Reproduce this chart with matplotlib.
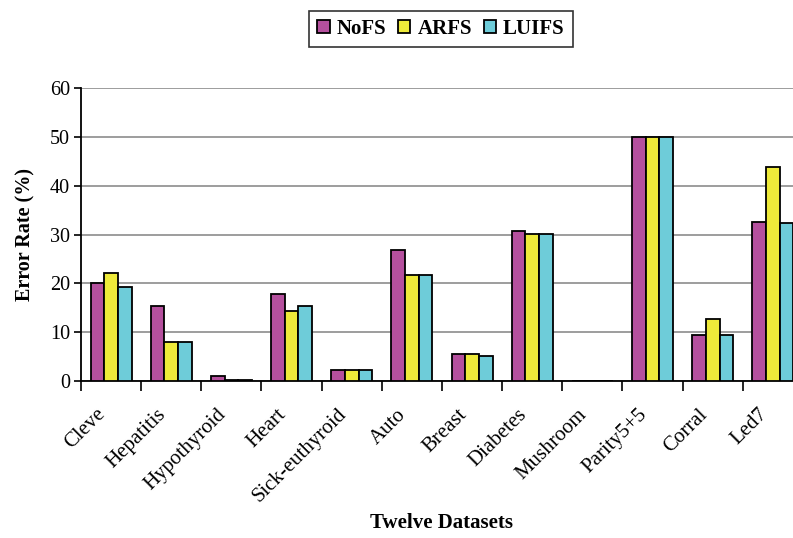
import numpy as np
import matplotlib
matplotlib.use("Agg")
import matplotlib.pyplot as plt
import matplotlib.transforms as mtransforms

plt.rcParams['font.family'] = ['Liberation Serif', 'DejaVu Serif']

datasets = ["Cleve", "Hepatitis", "Hypothyroid", "Heart", "Sick-euthyroid", "Auto",
            "Breast", "Diabetes", "Mushroom", "Parity5+5", "Corral", "Led7"]
nofs = [20.0, 15.3, 1.0, 17.9, 2.3, 26.9, 5.5, 30.8, 0.0, 50.0, 9.4, 32.6]
arfs = [22.1, 7.9, 0.3, 14.4, 2.3, 21.7, 5.5, 30.1, 0.0, 50.0, 12.6, 43.9]
luifs = [19.2, 7.9, 0.3, 15.4, 2.3, 21.7, 5.2, 30.1, 0.0, 50.0, 9.4, 32.3]

series = [("NoFS", nofs, "#B5509E"), ("ARFS", arfs, "#EEEA3A"), ("LUIFS", luifs, "#6ECCD9")]

W, H = 793, 538
fig = plt.figure(figsize=(W / 100, H / 100), dpi=100)
# plot area runs past the right edge of the picture, as in the reference
ax = fig.add_axes([81 / W, 1 - 381 / H, 722 / W, 293 / H])

x = np.arange(len(datasets))
bw = 0.228
for i, (name, vals, col) in enumerate(series):
    ax.bar(x + (i - 1) * bw, vals, bw, color=col, edgecolor="black", linewidth=1.3,
           label=name, zorder=3)

ax.set_xlim(-0.5, len(datasets) - 0.5)
ax.set_ylim(0, 60)
ax.set_yticks(range(0, 61, 10))
ax.yaxis.grid(True, color="#8c8c8c", linewidth=1.2, zorder=0)
ax.set_axisbelow(True)

# category labels: rotated, drawn as text so they can sit a bit left of centre
ax.set_xticks(x)
ax.tick_params(axis="x", which="major", length=0, labelbottom=False)
lab_tr = mtransforms.blended_transform_factory(ax.transData, ax.transAxes) + \
    mtransforms.ScaledTranslation(-15 / 100, -24 / 100, fig.dpi_scale_trans)
for xi, name in zip(x, datasets):
    ax.text(xi, 0, name, transform=lab_tr, rotation=45, ha="right", va="top",
            rotation_mode="anchor", fontsize=15)
ax.set_xticks(np.arange(-0.5, len(datasets), 1), minor=True)
ax.tick_params(axis="x", which="minor", length=7, width=1.2, direction="out")
ax.tick_params(axis="y", labelsize=14.5, length=5, width=1.2, pad=3)

for s in ["top", "right"]:
    ax.spines[s].set_visible(False)
ax.spines["left"].set_linewidth(1.3)
ax.spines["bottom"].set_linewidth(1.3)

ax.set_ylabel("Error Rate (%)", fontsize=14.5, fontweight="bold", labelpad=10)
fig.text(441 / W, 1 - 523 / H, "Twelve Datasets", fontsize=15, fontweight="bold",
         ha="center", va="center")

leg = fig.legend(loc="center", bbox_to_anchor=(441 / W, 1 - 29 / H), ncol=3,
                 fancybox=False, edgecolor="black", handlelength=0.6, handleheight=0.6,
                 handletextpad=0.34, columnspacing=0.55, borderpad=0.4, borderaxespad=0,
                 prop={"weight": "bold", "size": 15})
leg.get_frame().set_linewidth(1.2)

fig.savefig("out.png", dpi=100)
